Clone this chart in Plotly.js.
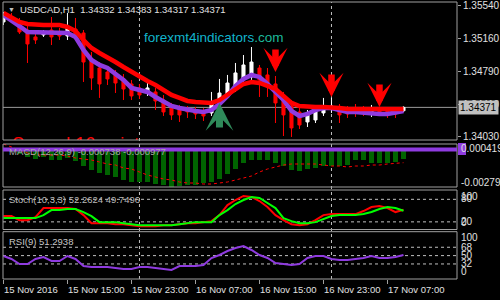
<!DOCTYPE html>
<html><head><meta charset="utf-8">
<script src="https://cdn.plot.ly/plotly-3.0.1.min.js"></script>
<style>html,body{margin:0;padding:0;background:#000;}#chart{width:500px;height:300px;}</style>
</head><body><div id="chart"></div>
<script>
// ---------------- DATA ----------------
const symbolTitle = 'USDCAD,H1  1.34332 1.34383 1.34317 1.34371';
const watermark = 'forexmt4indicators';
const watermarkTld = '.com';
const spreadLabel = 'Spread 16 points';
const tickIndex = [0, 8, 16, 24, 32, 40, 48];
const tickLabels = ['15 Nov 2016', '15 Nov 15:00', '15 Nov 23:00', '16 Nov 07:00', '16 Nov 15:00', '16 Nov 23:00', '17 Nov 07:00'];
const daySeparators = [17, 41];

const open = [1.35356, 1.35413, 1.35356, 1.35263, 1.35183, 1.35206, 1.35263, 1.35229, 1.35194, 1.35275,
  1.35229, 1.34918, 1.34825, 1.34779, 1.34768, 1.34699, 1.34641, 1.34595, 1.34549, 1.34549,
  1.34456, 1.34364, 1.34353, 1.34341, 1.34330, 1.34318, 1.34307, 1.34410, 1.34526, 1.34595,
  1.34687, 1.34722, 1.34825, 1.34745, 1.34641, 1.34491, 1.34387, 1.34318, 1.34203, 1.34226,
  1.34307, 1.34364, 1.34376, 1.34341, 1.34341, 1.34330, 1.34307, 1.34330, 1.34330, 1.34318,
  1.34332];
const high = [1.35471, 1.35459, 1.35402, 1.35309, 1.35217, 1.35263, 1.35413, 1.35286, 1.35459, 1.35402,
  1.35263, 1.35010, 1.34894, 1.34825, 1.34802, 1.34756, 1.34687, 1.34641, 1.34652, 1.34595,
  1.34514, 1.34422, 1.34399, 1.34387, 1.34376, 1.34364, 1.34549, 1.34699, 1.34745, 1.34883,
  1.34975, 1.35067, 1.34860, 1.34825, 1.34733, 1.34549, 1.34456, 1.34364, 1.34341, 1.34376,
  1.34480, 1.34480, 1.34410, 1.34387, 1.34410, 1.34387, 1.34399, 1.34376, 1.34364, 1.34364,
  1.34383];
const low = [1.35321, 1.35356, 1.35217, 1.34883, 1.35102, 1.35183, 1.35090, 1.35148, 1.35148, 1.35171,
  1.34664, 1.34572, 1.34480, 1.34629, 1.34537, 1.34456, 1.34456, 1.34468, 1.34503, 1.34341,
  1.34272, 1.34226, 1.34203, 1.34249, 1.34237, 1.34214, 1.34272, 1.34387, 1.34480, 1.34549,
  1.34629, 1.34687, 1.34491, 1.34491, 1.34191, 1.34041, 1.34030, 1.34122, 1.34145, 1.34191,
  1.34272, 1.34307, 1.34191, 1.34249, 1.34261, 1.34272, 1.34261, 1.34272, 1.34249, 1.34249,
  1.34317];
const close = [1.35436, 1.35379, 1.35240, 1.35102, 1.35148, 1.35240, 1.35183, 1.35194, 1.35286, 1.35217,
  1.34894, 1.34710, 1.34641, 1.34699, 1.34652, 1.34583, 1.34503, 1.34514, 1.34595, 1.34445,
  1.34318, 1.34284, 1.34284, 1.34318, 1.34295, 1.34272, 1.34422, 1.34537, 1.34652, 1.34768,
  1.34860, 1.34894, 1.34687, 1.34629, 1.34422, 1.34284, 1.34134, 1.34168, 1.34295, 1.34330,
  1.34387, 1.34387, 1.34284, 1.34295, 1.34318, 1.34318, 1.34341, 1.34307, 1.34295, 1.34295,
  1.34371];
const maRed = [1.35459, 1.35413, 1.35356, 1.35333, 1.35321, 1.35321, 1.35321, 1.35321, 1.35298, 1.35252,
  1.35148, 1.35056, 1.34998, 1.34952, 1.34894, 1.34837, 1.34779, 1.34722, 1.34675, 1.34629,
  1.34572, 1.34514, 1.34480, 1.34445, 1.34433, 1.34422, 1.34422, 1.34456, 1.34514, 1.34583,
  1.34641, 1.34664, 1.34652, 1.34618, 1.34583, 1.34503, 1.34422, 1.34387, 1.34376, 1.34376,
  1.34376, 1.34376, 1.34364, 1.34353, 1.34353, 1.34353, 1.34341, 1.34341, 1.34341, 1.34341,
  1.34353];
const maPurple = [1.35436, 1.35379, 1.35309, 1.35240, 1.35240, 1.35240, 1.35229, 1.35229, 1.35229, 1.35183,
  1.35033, 1.34918, 1.34860, 1.34825, 1.34756, 1.34687, 1.34595, 1.34572, 1.34549, 1.34491,
  1.34445, 1.34387, 1.34364, 1.34341, 1.34330, 1.34318, 1.34341, 1.34410, 1.34503, 1.34618,
  1.34699, 1.34745, 1.34722, 1.34641, 1.34549, 1.34456, 1.34330, 1.34272, 1.34295, 1.34341,
  1.34364, 1.34364, 1.34341, 1.34318, 1.34318, 1.34307, 1.34307, 1.34295, 1.34295, 1.34307,
  1.34330];
const buyArrowIdx = [27];
const buyArrowPrice = [1.34422];
const sellArrowIdx = [34, 41, 47];
const sellArrowPrice = [1.34779, 1.34491, 1.34376];
const priceTicks = [1.35540, 1.35160, 1.34790, 1.34410, 1.34030];
const priceRange = [1.33995, 1.35586];
const lastPrice = 1.34371;

const macdHist = [-0.000100, -0.000200, -0.000300, -0.000552, -0.000702, -0.000552, -0.000776, -0.000776, -0.000627, -0.000851,
  -0.001224, -0.001523, -0.001747, -0.001897, -0.002046, -0.002270, -0.002420, -0.002420, -0.002420, -0.002569,
  -0.002644, -0.002793, -0.002740, -0.002644, -0.002644, -0.002494, -0.002420, -0.002196, -0.001822, -0.001449,
  -0.001000, -0.000776, -0.000776, -0.000776, -0.001000, -0.001224, -0.001523, -0.001598, -0.001449, -0.001374,
  -0.001224, -0.001224, -0.001224, -0.001150, -0.000776, -0.000776, -0.001000, -0.001000, -0.001000, -0.000926,
  -0.000738];
const macdSignal = [0.000419, 0.000195, -0.000029, -0.000253, -0.000403, -0.000403, -0.000403, -0.000403, -0.000477, -0.000627,
  -0.000702, -0.000776, -0.000926, -0.001075, -0.001150, -0.001374, -0.001449, -0.001673, -0.001897, -0.002046,
  -0.002196, -0.002270, -0.002420, -0.002494, -0.002494, -0.002569, -0.002569, -0.002494, -0.002420, -0.002270,
  -0.002121, -0.001971, -0.001673, -0.001449, -0.001299, -0.001150, -0.001075, -0.001075, -0.001075, -0.001075,
  -0.001150, -0.001224, -0.001224, -0.001299, -0.001224, -0.001224, -0.001150, -0.001150, -0.001075, -0.001000,
  -0.000977];
const macdMax = 0.000419;
const macdMin = -0.002793;
const macdLabel = 'MACD(12,26,9) -0.000738 -0.000977';

const stochMain = [35.4, 35.4, 24.6, 24.6, 32.7, 56.8, 56.8, 56.8, 56.8, 54.1,
  38.0, 16.6, 16.6, 16.6, 13.9, 13.9, 11.3, 8.6, 8.6, 8.6,
  11.3, 11.3, 13.9, 16.6, 16.6, 19.3, 22.0, 38.0, 64.8, 78.2,
  88.9, 86.3, 75.5, 59.5, 38.0, 24.6, 13.9, 11.3, 13.9, 24.6,
  38.0, 40.7, 40.7, 40.7, 40.7, 48.8, 59.5, 62.1, 56.8, 46.1,
  52.2624];
const stochSignal = [30.0, 30.0, 30.0, 30.0, 30.0, 38.0, 51.4, 51.4, 54.1, 54.1,
  46.1, 35.4, 19.3, 19.3, 19.3, 16.6, 13.9, 11.3, 11.3, 11.3,
  11.3, 11.3, 13.9, 16.6, 19.3, 19.3, 19.3, 38.0, 51.4, 67.5,
  78.2, 86.3, 83.6, 70.2, 56.8, 30.0, 22.0, 16.6, 16.6, 19.3,
  27.3, 35.4, 38.0, 38.0, 38.0, 40.7, 46.1, 54.1, 59.5, 56.8,
  49.7496];
const stochLevels = [80, 20];
const stochLabel = 'Stoch(10,3,3) 52.2624 49.7496';

const rsi = [49.1, 42.7, 31.9, 31.9, 42.7, 47.0, 38.4, 38.4, 49.1, 42.7,
  27.6, 25.4, 25.4, 25.4, 23.3, 21.1, 21.1, 25.4, 25.4, 23.3,
  21.1, 19.0, 27.6, 27.6, 27.6, 29.7, 44.8, 51.3, 59.9, 66.4,
  70.7, 62.1, 51.3, 44.8, 34.1, 31.9, 29.7, 31.9, 44.8, 49.1,
  49.1, 42.7, 40.5, 40.5, 42.7, 44.8, 49.1, 44.8, 44.8, 47.0,
  51.2938];
const rsiLevels = [68, 50, 32];
const rsiLabel = 'RSI(9) 51.2938';

// ---------------- LAYOUT HELPERS ----------------
const FONT = 'Liberation Sans, Arial, sans-serif';
const W = 500, H = 300, mL = 3, mR = 43, mT = 2, mB = 21;
const plotH = H - mT - mB;
const plotW = W - mL - mR;
const py = p => (H - mB - p) / plotH;      // pixel row -> paper y
const px = p => (p - mL) / plotW;          // pixel col -> paper x
const dom = (top, bottom) => [py(bottom), py(top)];
const idx = close.map((_, i) => i);

const GRID = '#c0c0c0', BORDER = '#a0a0a0', TXT = '#e0e0e0', PURPLE = '#8f3be0';

const traces = [
  {type: 'candlestick', x: idx, open: open, high: high, low: low, close: close, xaxis: 'x', yaxis: 'y',
   increasing: {line: {color: '#ffffff', width: 1}, fillcolor: '#ffffff'},
   decreasing: {line: {color: '#ff0000', width: 1}, fillcolor: '#ff0000'},
   whiskerwidth: 0, hoverinfo: 'skip'},
  {type: 'scatter', mode: 'lines', x: idx, y: maPurple, xaxis: 'x', yaxis: 'y', line: {color: PURPLE, width: 4.5}},
  {type: 'scatter', mode: 'lines', x: idx, y: maRed, xaxis: 'x', yaxis: 'y', line: {color: '#ff0000', width: 4.5}},
  {type: 'scatter', mode: 'text', x: [1.1], y: [priceRange[0] - 0.00058], text: [spreadLabel], textposition: 'middle right',
   textfont: {color: '#ff0000', size: 18, family: FONT}, cliponaxis: true, xaxis: 'x', yaxis: 'y'},
  {type: 'bar', x: idx, y: macdHist, width: 0.6, marker: {color: '#006400', line: {width: 0}}, xaxis: 'x', yaxis: 'y2'},
  {type: 'scatter', mode: 'lines', x: idx, y: macdSignal, xaxis: 'x', yaxis: 'y2', line: {color: '#ff0000', width: 1, dash: 'dot'}},
  {type: 'scatter', mode: 'lines', x: idx, y: stochMain, xaxis: 'x', yaxis: 'y3', line: {color: '#ff0000', width: 2}},
  {type: 'scatter', mode: 'lines', x: idx, y: stochSignal, xaxis: 'x', yaxis: 'y3', line: {color: '#00ff00', width: 2}},
  {type: 'scatter', mode: 'lines', x: idx, y: rsi, xaxis: 'x', yaxis: 'y4', line: {color: PURPLE, width: 2}}
];

const shapes = [];
['y', 'y2', 'y3', 'y4'].forEach(a => shapes.push({type: 'rect', xref: 'paper', yref: a + ' domain', x0: 0, x1: 1, y0: 0, y1: 1,
  line: {color: BORDER, width: 1}, fillcolor: 'rgba(0,0,0,0)', layer: 'above'}));
shapes.push({type: 'line', xref: 'paper', yref: 'y', x0: 0, x1: 1, y0: lastPrice, y1: lastPrice, line: {color: '#9a9a9a', width: 1}, layer: 'below'});
daySeparators.forEach(d => shapes.push({type: 'line', xref: 'x', yref: 'paper', x0: d, x1: d, y0: 0, y1: 1,
  line: {color: GRID, width: 1, dash: '3px,3px'}, layer: 'below'}));
stochLevels.forEach(v => shapes.push({type: 'line', xref: 'paper', yref: 'y3', x0: 0, x1: 1, y0: v, y1: v,
  line: {color: GRID, width: 1, dash: '3px,3px'}, layer: 'below'}));
rsiLevels.forEach(v => shapes.push({type: 'line', xref: 'paper', yref: 'y4', x0: 0, x1: 1, y0: v, y1: v,
  line: {color: GRID, width: 1, dash: '3px,3px'}, layer: 'below'}));
shapes.push({type: 'line', xref: 'paper', yref: 'y2', x0: 0, x1: 1, y0: 0, y1: 0, line: {color: PURPLE, width: 4}, layer: 'above'});
shapes.push({type: 'rect', xref: 'paper', yref: 'paper', x0: px(458), x1: px(466), y0: py(155), y1: py(143),
  line: {width: 0}, fillcolor: PURPLE, layer: 'above'});

const ann = [];
const txt = (t, x, y, size, color, extra) => Object.assign({text: t, xref: 'paper', yref: 'paper', x: px(x), y: py(y),
  xanchor: 'left', yanchor: 'middle', showarrow: false, font: {family: FONT, size: size, color: color}}, extra || {});
ann.push(txt('▼', 6, 10, 7, '#c0c0c0'));
ann.push(txt(symbolTitle, 18, 10, 9.5, TXT));
ann.push(txt('<span style="color:#12b4cc">' + watermark + '</span><span style="color:#1cb89a">' + watermarkTld + '</span>', 142, 38, 13.5, '#12b4cc'));
ann.push(txt(macdLabel, 7, 151, 9.5, '#a8a8a8'));
ann.push(txt(stochLabel, 7, 199, 9.5, '#b8b8b8'));
ann.push(txt(rsiLabel, 7, 241, 9.5, '#c8c8c8'));
// time labels, left-aligned at their tick as in MT4
tickIndex.forEach((t, k) => ann.push({text: tickLabels[k], xref: 'x', yref: 'paper', x: t, y: py(289), xanchor: 'left',
  yanchor: 'middle', xshift: -1, showarrow: false, font: {family: FONT, size: 9.5, color: TXT}}));
// current price tag
ann.push({text: lastPrice.toFixed(5), xref: 'paper', yref: 'y', x: 1, y: lastPrice, xanchor: 'left', yanchor: 'middle', xshift: 1,
  showarrow: false, bgcolor: '#c0c0c0', borderpad: 1, font: {family: FONT, size: 10, color: '#000000'}});
// indicator scale labels
const rlab = (t, yref, v, shift) => ({text: t, xref: 'paper', yref: yref, x: 1, y: v, xanchor: 'left', yanchor: 'middle',
  xshift: 2, yshift: shift, showarrow: false, font: {family: FONT, size: 10, color: TXT}});
ann.push(rlab(macdMax.toFixed(6), 'y2', macdMax, -4));
ann.push(rlab(macdMin.toFixed(6), 'y2', macdMin, 5));
ann.push(rlab('100', 'y3', 100, -5));
ann.push(rlab('80', 'y3', 80, 1));
ann.push(rlab('20', 'y3', 20, 0));
ann.push(rlab('0', 'y3', 0, 7));
ann.push(rlab('100', 'y4', 100, -5));
rsiLevels.forEach(v => ann.push(rlab(String(v), 'y4', v, 0)));
ann.push(rlab('0', 'y4', 0, 7));
// signal arrows
sellArrowIdx.forEach((xi, k) => ann.push({x: xi, y: sellArrowPrice[k], xref: 'x', yref: 'y', text: '', showarrow: true,
  arrowhead: 3, arrowsize: 0.62, arrowwidth: 6.5, arrowcolor: '#ff0000', ax: 0, ay: -24}));
buyArrowIdx.forEach((xi, k) => ann.push({x: xi, y: buyArrowPrice[k], xref: 'x', yref: 'y', text: '', showarrow: true,
  arrowhead: 3, arrowsize: 0.66, arrowwidth: 7, arrowcolor: '#2f8a5a', ax: 0, ay: 26}));

const yBase = {showgrid: false, zeroline: false, showline: false, fixedrange: true, anchor: 'x', side: 'right'};
const layout = {
  width: W, height: H, margin: {l: mL, r: mR, t: mT, b: mB},
  paper_bgcolor: '#000000', plot_bgcolor: '#000000', showlegend: false, hovermode: false,
  boxgap: 0.45, bargap: 0,
  font: {family: FONT, color: TXT, size: 10},
  xaxis: {anchor: 'y4', range: [-0.06, 56.69], showgrid: false, zeroline: false, showline: false,
    rangeslider: {visible: false}, tickvals: tickIndex, ticks: 'outside', ticklen: 4,
    tickcolor: BORDER, showticklabels: false},
  yaxis: Object.assign({}, yBase, {domain: dom(2, 140), range: priceRange, tickvals: priceTicks,
    ticktext: priceTicks.map(v => v.toFixed(5)), ticks: 'outside', ticklen: 3, tickcolor: BORDER,
    tickfont: {family: FONT, size: 10, color: TXT}}),
  yaxis2: Object.assign({}, yBase, {domain: dom(144, 187), range: [macdMin, macdMax], showticklabels: false, ticks: ''}),
  yaxis3: Object.assign({}, yBase, {domain: dom(190, 229.5), range: [-0.3, 104.8], showticklabels: false, ticks: ''}),
  yaxis4: Object.assign({}, yBase, {domain: dom(231.7, 279), range: [-0.4, 101.5], showticklabels: false, ticks: ''}),
  shapes: shapes, annotations: ann
};
Plotly.newPlot('chart', traces, layout, {staticPlot: true, displayModeBar: false});
</script></body></html>
